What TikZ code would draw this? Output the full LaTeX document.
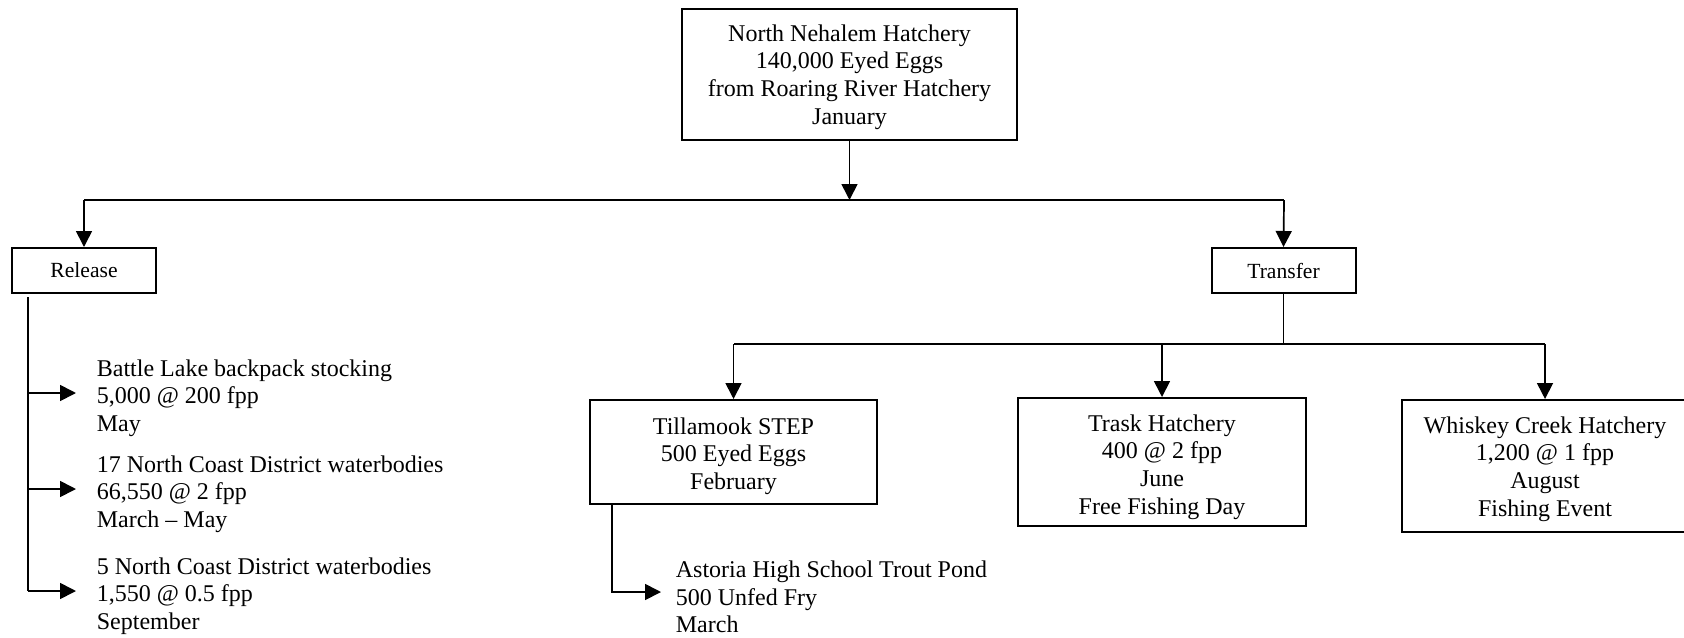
\documentclass[tikz,border=0pt]{standalone}
\usepackage{fontspec}
\setmainfont{Liberation Serif}
\usepackage{tikz}
\usetikzlibrary{arrows.meta}
\newcommand{\padtop}[1]{\rule{0pt}{#1}}

\begin{document}
\begin{tikzpicture}[x=0.5pt,y=-0.5pt,line width=0.85pt,
  box/.style={draw,line width=1pt,align=center,inner sep=0pt,
    font=\fontsize{12}{13.8}\selectfont},
  small/.style={draw,line width=1pt,inner sep=0pt,minimum width=72pt,
    minimum height=22.5pt,font=\fontsize{10.8}{12}\selectfont},
  txt/.style={anchor=west,align=left,inner xsep=10pt,inner ysep=0pt,
    font=\fontsize{12}{13.8}\selectfont},
  arr/.style={-{Triangle[length=8pt,width=8pt]}}]
\useasboundingbox (0,0) rectangle (1684,637);

% source
\node[box,minimum width=167.5pt,minimum height=65.5pt] (hatch) at (849.5,74)
  {\padtop{11.2pt}North Nehalem Hatchery\\140,000 Eyed Eggs\\from Roaring River Hatchery\\January};
\node[small] (release) at (84,270.5) {Release};
\node[small] (transfer) at (1283.5,270.5) {Transfer};
\coordinate (split) at (84,200);
\coordinate (splitR) at (1284,200);
\draw[arr] (hatch.south) -- (hatch.south |- split);
\draw (split) -- (splitR);
\draw[arr] (split) -- (release.north);
\draw[arr] (splitR) -- (transfer.north);

% releases
\coordinate (relstem) at (28,297);
\node[txt] (battle) at (76,393) {\padtop{13.2pt}Battle Lake backpack stocking\\5,000 @ 200 fpp\\May};
\node[txt] (coast17) at (76,489) {\padtop{13.2pt}17 North Coast District waterbodies\\66,550 @ 2 fpp\\March -- May};
\node[txt] (coast5) at (76,591) {\padtop{13.2pt}5 North Coast District waterbodies\\1,550 @ 0.5 fpp\\September};
\draw (relstem) -- (coast5.west -| relstem);
\foreach \n in {battle,coast17,coast5}
  \draw[arr] (\n.west -| relstem) -- (\n.west);

% transfers
\coordinate (join) at (734,344);
\coordinate (joinR) at (1545,344);
\draw (transfer.south) -- (transfer.south |- join);
\draw (join) -- (joinR);
\node[box,minimum width=143.5pt,minimum height=52pt] (tillamook) at (733.5,452)
  {\padtop{12.2pt}Tillamook STEP\\500 Eyed Eggs\\February};
\node[box,minimum width=144pt,minimum height=64pt] (trask) at (1162,462)
  {\padtop{13.2pt}Trask Hatchery\\400 @ 2 fpp\\June\\Free Fishing Day};
\node[box,minimum width=143pt,minimum height=66pt] (whiskey) at (1545,466)
  {\padtop{11.2pt}Whiskey Creek Hatchery\\1,200 @ 1 fpp\\August\\Fishing Event};
\foreach \n in {tillamook,trask,whiskey}
  \draw[arr] (\n.north |- join) -- (\n.north);

\node[txt,inner xsep=7pt] (astoria) at (661,592) {\padtop{13.2pt}Astoria High School Trout Pond\\500 Unfed Fry\\March};
\draw[arr] (tillamook.south west) ++(23,0) |- (astoria.west);
\end{tikzpicture}
\end{document}
